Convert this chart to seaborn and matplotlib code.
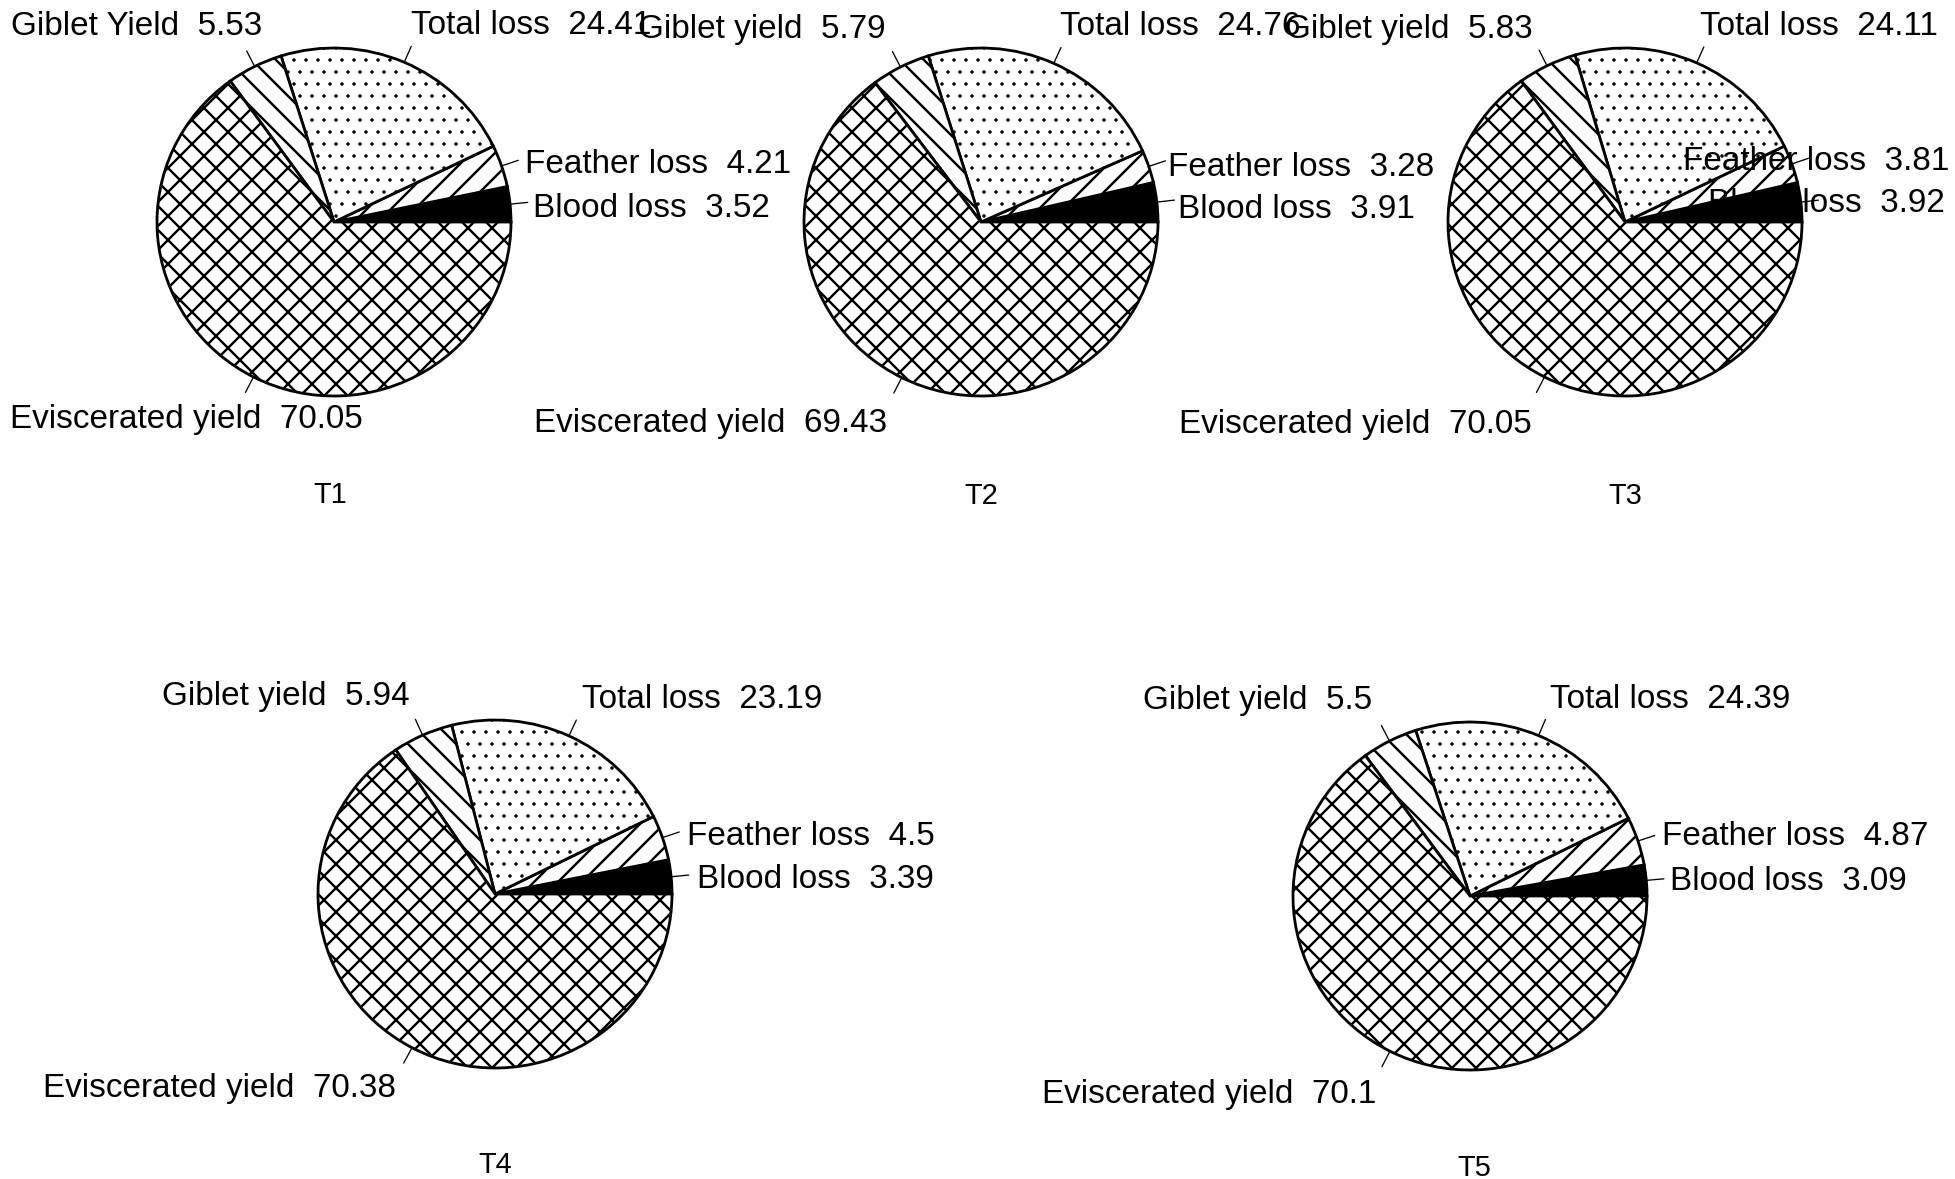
import numpy as np
import matplotlib
matplotlib.use("Agg")
import matplotlib.pyplot as plt
import seaborn as sns

sns.set_theme(style="white")
plt.rcParams["font.family"] = ["Liberation Sans", "DejaVu Sans"]
plt.rcParams["hatch.linewidth"] = 2.4
plt.rcParams["hatch.color"] = "black"

# data (per cent of live weight)
parts = ["Blood loss", "Feather loss", "Total loss", "Giblet yield", "Eviscerated yield"]
t1 = [3.52, 4.21, 24.41, 5.53, 70.05]
t2 = [3.91, 3.28, 24.76, 5.79, 69.43]
t3 = [3.92, 3.81, 24.11, 5.83, 70.05]
t4 = [3.39, 4.5, 23.19, 5.94, 70.38]
t5 = [3.09, 4.87, 24.39, 5.5, 70.1]
treatments = ["T1", "T2", "T3", "T4", "T5"]

fills = ["black", "white", "white", "white", "white"]
hatches = [None, "/", ".", "\\", "x"]

# 72 dpi keeps the hatch pattern close to the scanned one (1 pt = 1 px)
DPI = 72
W, H = 1955, 1179
RX, RY = 177, 174

# layout in pixels: pie centres, label anchors (left x, baseline), title
pies = [
    dict(vals=t1, c=(334, 222), title=(330, 503),
         lab=[(533, 217), (525, 173), (411, 34), (11, 35), (10, 428)]),
    dict(vals=t2, c=(981, 222), title=(981, 504),
         lab=[(1178, 218), (1168, 176), (1060, 35), (638, 38), (534, 432)]),
    dict(vals=t3, c=(1625, 222), title=(1625, 504),
         lab=[(1708, 212), (1683, 170), (1700, 35), (1285, 38), (1179, 433)]),
    dict(vals=t4, c=(495, 894), title=(495, 1173),
         lab=[(697, 888), (687, 845), (582, 708), (162, 705), (43, 1097)]),
    dict(vals=t5, c=(1470, 896), title=(1474, 1176),
         lab=[(1670, 890), (1662, 845), (1550, 708), (1143, 709), (1042, 1103)]),
]

fig = plt.figure(figsize=(W / DPI, H / DPI), dpi=DPI)
fig.patch.set_facecolor("white")

for i, p in enumerate(pies):
    cx, cy = p["c"]
    ax = fig.add_axes([(cx - RX) / W, 1 - (cy + RY) / H, 2 * RX / W, 2 * RY / H])
    wedges, _ = ax.pie(p["vals"], startangle=0, counterclock=True, colors=fills,
                       hatch=hatches,
                       wedgeprops=dict(edgecolor="black", linewidth=2.8))
    # finer dots for the "Total loss" slice
    if hasattr(wedges[2], "set_hatch_linewidth"):
        wedges[2].set_hatch_linewidth(1.0)
    ax.set_aspect("auto")
    ax.set_xlim(-1, 1)
    ax.set_ylim(-1, 1)
    ax.axis("off")

    names = list(parts)
    if i == 0:
        names[3] = "Giblet Yield"
    for w, name, v, (lx, ly) in zip(wedges, names, p["vals"], p["lab"]):
        a = np.deg2rad((w.theta1 + w.theta2) / 2)
        ax.plot([np.cos(a), 1.1 * np.cos(a)], [np.sin(a), 1.1 * np.sin(a)],
                color="black", lw=1.3, clip_on=False)
        fig.text(lx / W, 1 - ly / H, f"{name}  {v}", ha="left", va="baseline",
                 fontsize=33.3, color="black")

    tx, ty = p["title"]
    fig.text(tx / W, 1 - ty / H, treatments[i], ha="center", va="baseline",
             fontsize=29, color="black")

fig.savefig("out.png", dpi=DPI, facecolor="white")
